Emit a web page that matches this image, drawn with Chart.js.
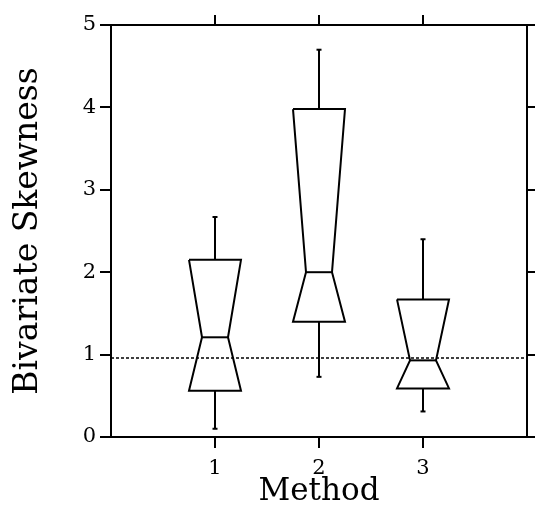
<!DOCTYPE html>
<html>
<head>
<meta charset="utf-8">
<script src="https://cdn.jsdelivr.net/npm/chart.js@4.4.1/dist/chart.umd.min.js"></script>
<style>
  html, body { margin: 0; padding: 0; background: #fff; }
  #wrap { width: 535px; height: 507px; }
</style>
</head>
<body>
<div id="wrap"><canvas id="chart"></canvas></div>
<script>
// valeurs
const methods = [1, 2, 3];
const whiskerLow = [0.10, 0.73, 0.31];
const q1 = [0.56, 1.40, 0.59];
const median = [1.21, 2.00, 0.93];
const q3 = [2.15, 3.98, 1.67];
const whiskerHigh = [2.67, 4.70, 2.40];
const refLine = 0.96;
const yTicks = [0, 1, 2, 3, 4, 5];

// forme des boites (largeur en unités de l'axe x)
const halfBox = 0.25;
const halfNotch = 0.125;

const FONT = "'DejaVu Serif', 'Liberation Serif', serif";
const ink = '#000';

const datasets = [];
methods.forEach((m, i) => {
  // contour en sablier : q3 -> médiane (rétréci) -> q1
  datasets.push({
    data: [
      { x: m - halfBox, y: q3[i] }, { x: m + halfBox, y: q3[i] },
      { x: m + halfNotch, y: median[i] }, { x: m + halfBox, y: q1[i] },
      { x: m - halfBox, y: q1[i] }, { x: m - halfNotch, y: median[i] },
      { x: m - halfBox, y: q3[i] }
    ],
    showLine: true, borderColor: ink, borderWidth: 2, pointRadius: 0, clip: false
  });
  // médiane
  datasets.push({
    data: [{ x: m - halfNotch, y: median[i] }, { x: m + halfNotch, y: median[i] }],
    showLine: true, borderColor: ink, borderWidth: 2, pointRadius: 0
  });
  // moustaches
  datasets.push({
    data: [{ x: m, y: q3[i] }, { x: m, y: whiskerHigh[i] }],
    showLine: true, borderColor: ink, borderWidth: 2,
    pointStyle: 'line', pointRadius: [0, 2.5], pointBorderWidth: 2, pointBorderColor: ink
  });
  datasets.push({
    data: [{ x: m, y: q1[i] }, { x: m, y: whiskerLow[i] }],
    showLine: true, borderColor: ink, borderWidth: 2,
    pointStyle: 'line', pointRadius: [0, 2.5], pointBorderWidth: 2, pointBorderColor: ink
  });
});
// ligne de référence pointillée
datasets.push({
  data: [{ x: 0, y: refLine }, { x: 4, y: refLine }],
  showLine: true, borderColor: ink, borderWidth: 1.5, borderDash: [3, 2], pointRadius: 0
});

const gridOpts = { drawOnChartArea: false, drawTicks: true, tickLength: 11, color: ink, lineWidth: 2 };
const borderOpts = { color: ink, width: 2 };

new Chart(document.getElementById('chart'), {
  type: 'scatter',
  data: { datasets },
  options: {
    responsive: true,
    maintainAspectRatio: false,
    animation: false,
    events: [],
    layout: { padding: 0 },
    plugins: { legend: { display: false }, tooltip: { enabled: false } },
    scales: {
      x: {
        type: 'linear', position: 'bottom', min: 0, max: 4,
        afterBuildTicks: (s) => { s.ticks = methods.map(v => ({ value: v })); },
        afterFit: (s) => { s.height = 70; },
        grid: gridOpts, border: borderOpts,
        ticks: { color: ink, font: { family: FONT, size: 21 }, padding: 8, maxRotation: 0 },
        title: { display: true, text: 'Method', color: ink, font: { family: FONT, size: 31, lineHeight: 1.0 }, padding: 0 }
      },
      x2: {
        type: 'linear', position: 'top', min: 0, max: 4,
        afterBuildTicks: (s) => { s.ticks = methods.map(v => ({ value: v })); },
        afterFit: (s) => { s.height = 25; },
        grid: Object.assign({}, gridOpts, { tickLength: 10 }), border: borderOpts,
        ticks: { display: false }
      },
      y: {
        type: 'linear', position: 'left', min: 0, max: 5,
        afterBuildTicks: (s) => { s.ticks = yTicks.map(v => ({ value: v })); },
        afterFit: (s) => { s.width = 111; },
        grid: gridOpts, border: borderOpts,
        ticks: { color: ink, font: { family: FONT, size: 21 }, padding: 4 },
        title: { display: true, text: 'Bivariate Skewness', color: ink, font: { family: FONT, size: 33 }, padding: { top: 9 } }
      },
      y2: {
        type: 'linear', position: 'right', min: 0, max: 5,
        afterBuildTicks: (s) => { s.ticks = yTicks.map(v => ({ value: v })); },
        afterFit: (s) => { s.width = 8; },
        grid: Object.assign({}, gridOpts, { tickLength: 8 }), border: borderOpts,
        ticks: { display: false }
      }
    }
  }
});
</script>
</body>
</html>
